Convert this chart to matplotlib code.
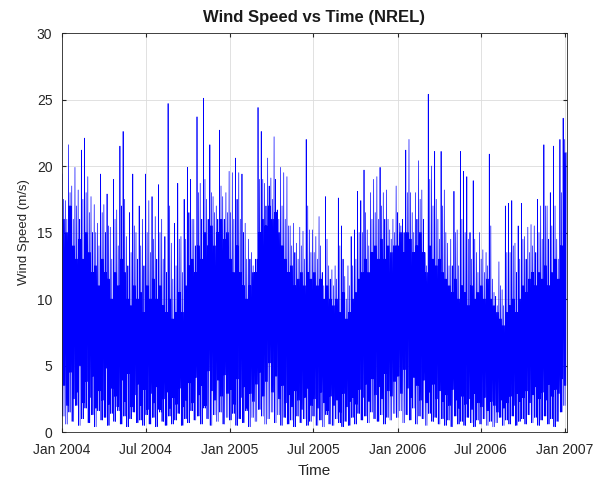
import numpy as np
import matplotlib
matplotlib.use('Agg')
import matplotlib.pyplot as plt
import matplotlib.dates as mdates

plt.rcParams['font.family'] = ['Liberation Sans', 'DejaVu Sans']

# weekly readings of the wind speed trace (m/s), starting Jan 1 2004
start = np.datetime64('2004-01-01T00:00')

# highest spike in each week
peaks = [19.4, 17.4, 21.6, 18.5, 19.9, 18.2, 21.2, 22.1, 19.2, 17.7, 17.1, 15.7, 19.4,
         17.1, 17.9, 15.4, 19.0, 16.7, 21.5, 22.6, 14.7, 16.5, 19.4, 15.0, 17.0, 16.0,
         19.4, 17.4, 17.7, 16.2, 18.6, 16.0, 14.7, 24.7, 14.2, 15.7, 18.7, 14.7, 17.5,
         19.9, 19.0, 16.0, 23.7, 18.7, 25.1, 17.5, 21.6, 17.7, 17.0, 22.7, 17.7, 18.0,
         19.6, 19.5, 20.6, 19.5, 19.4, 15.7, 14.5, 13.5, 11.5, 24.4, 22.6, 18.7, 20.6,
         19.1, 22.2, 16.7, 19.9, 19.5, 19.2, 15.5, 15.7, 14.2, 15.4, 15.1, 22.0, 15.2,
         15.2, 14.7, 16.2, 12.0, 17.7, 12.5, 12.2, 12.5, 17.6, 15.5, 11.7, 12.5, 14.7,
         15.2, 18.1, 17.4, 19.7, 15.2, 18.0, 19.0, 19.2, 19.9, 18.0, 18.2, 15.2, 16.0,
         18.5, 15.7, 16.0, 21.2, 22.0, 16.5, 18.0, 20.4, 18.2, 12.5, 25.4, 20.0, 21.1,
         16.0, 21.1, 18.2, 14.2, 14.5, 18.1, 15.2, 21.1, 19.6, 19.2, 15.0, 18.9, 13.5,
         15.0, 13.7, 13.5, 20.9, 11.5, 10.2, 12.8, 10.7, 17.0, 17.2, 17.4, 14.2, 15.5,
         17.2, 14.7, 15.4, 15.6, 15.5, 17.5, 17.0, 21.6, 17.0, 18.0, 21.5, 14.5, 22.0, 23.6]

# second highest spike in each week
second = [17.5, 16, 18, 16, 17, 16, 17.5, 18, 16.5, 15, 15, 14, 16.5,
          15, 15.5, 13, 16, 14, 17, 17.5, 12.5, 13.5, 15.5, 13, 14, 12.5,
          15, 13.5, 14.5, 13, 15, 13, 12, 17, 11.5, 12.5, 14.5, 12, 14.5,
          16.5, 16, 14, 18, 16, 19, 16, 18, 16.5, 16, 18.5, 16, 16.5,
          16.5, 16, 17.5, 16, 15, 13, 13, 12.5, 12, 19, 19, 17, 18.5,
          17.5, 19, 16, 17, 16, 15.5, 14, 13.5, 13, 14, 13, 17, 13.5,
          13.5, 13, 14, 11, 14.5, 11.5, 11, 11.5, 14, 13, 10, 11, 12.5,
          13, 15, 15, 16.5, 14, 16, 16.5, 16, 17, 16, 16, 14.5, 15,
          16.5, 15.5, 15, 18, 18, 15, 16, 17.5, 16, 12.5, 19, 17, 17.5,
          14.5, 17, 15, 12.5, 12.5, 15, 12.5, 16, 15, 14.5, 13, 14.5, 12,
          13, 12, 12.5, 15.5, 10.5, 9.5, 11, 9.5, 13.5, 13.5, 14, 12, 13,
          14.5, 13, 13.5, 14, 13.5, 15, 14.5, 17, 14.5, 15.5, 17, 13, 18, 22]

# typical daily high (top of the dense part) in each week
body = [16, 15, 17, 14, 13, 14.5, 13, 15, 13.5, 12, 12.5, 11, 13,
        12, 11.5, 10, 12, 11, 13, 12, 10, 9.5, 11, 10, 10.5, 9,
        11, 10, 11.5, 10, 11, 9.5, 9, 10, 8.5, 9, 10.5, 9, 11,
        12.5, 13, 12, 14, 13, 15, 14, 15.5, 14, 15, 16, 14.5, 15,
        13, 12, 14, 12, 11, 10, 11, 12, 13, 15, 16, 15.5, 17,
        16, 16.5, 15, 14, 13, 12, 12.5, 11, 11.5, 12, 11, 12, 11.5,
        12, 11, 11.5, 10, 11, 10, 9.5, 10, 9, 10.5, 8.5, 9, 10,
        10.5, 11.5, 12, 13, 12, 13.5, 14, 13, 14.5, 13, 14, 13.5, 14,
        14, 15, 13.5, 15, 14.5, 13.5, 14, 15, 13.5, 12, 14, 13, 12.5,
        13, 12, 11.5, 11, 10.5, 11.5, 10, 11, 10.5, 9.5, 11, 10, 10.5,
        11, 10, 11.5, 10, 9.5, 9, 8.5, 8, 9, 9.5, 10, 9, 10,
        11, 10.5, 11.5, 12, 11, 12, 11.5, 12.5, 11, 12, 13, 11.5, 14, 21]

# lowest value in each week
lows = [1.2, 0.6, 1.5, 0.8, 2.0, 0.5, 1.0, 1.8, 0.7, 1.3, 0.4, 1.6, 0.9,
        1.1, 0.5, 1.4, 0.8, 1.9, 0.6, 1.2, 0.4, 1.0, 1.5, 0.7, 0.9, 0.5,
        1.3, 0.6, 1.1, 0.4, 1.7, 0.8, 0.5, 1.2, 0.6, 0.9, 1.4, 0.5, 1.0,
        0.7, 1.6, 0.9, 1.2, 0.6, 1.8, 1.0, 0.5, 1.3, 0.8, 1.5, 0.6, 1.1,
        0.9, 1.4, 0.5, 1.0, 0.7, 1.6, 0.4, 1.1, 0.8, 1.7, 1.2, 0.6, 1.0,
        1.5, 0.7, 1.3, 0.5, 1.1, 0.6, 0.9, 0.4, 1.2, 0.7, 1.0, 0.5, 0.8,
        1.2, 0.5, 0.9, 0.4, 1.3, 0.6, 0.5, 1.0, 0.7, 0.4, 0.8, 0.5, 1.1,
        0.6, 1.4, 0.9, 1.2, 0.7, 1.5, 1.0, 0.8, 1.3, 0.6, 1.1, 0.9, 1.4,
        1.1, 1.6, 0.7, 1.3, 0.9, 1.8, 0.6, 1.2, 1.0, 0.5, 1.4, 0.8, 1.1,
        0.6, 1.0, 0.5, 0.9, 0.4, 1.2, 0.6, 0.8, 0.5, 1.1, 0.7, 0.4, 0.9,
        0.6, 1.0, 0.5, 0.8, 0.4, 0.7, 1.1, 0.5, 0.9, 0.6, 1.2, 0.5, 0.8,
        1.0, 0.6, 1.3, 0.7, 1.1, 0.5, 0.9, 1.2, 0.6, 1.0, 0.4, 0.8, 1.5, 2.0]

# shallower mid-week lulls
dips = [3.5, 2.0, 4.5, 2.5, 3.0, 5.0, 2.2, 3.8, 2.6, 4.2, 1.8, 3.1, 2.4,
        4.8, 2.1, 3.3, 2.7, 1.6, 3.9, 2.3, 4.4, 1.9, 2.8, 3.6, 2.0, 3.2,
        1.7, 2.9, 2.2, 3.4, 1.5, 2.5, 3.0, 1.8, 2.6, 2.1, 3.3, 1.9, 2.4,
        3.7, 2.2, 4.1, 2.8, 3.5, 2.0, 4.6, 3.1, 2.4, 3.9, 2.7, 4.3, 2.9,
        3.2, 2.1, 4.0, 2.6, 3.4, 1.8, 2.9, 2.3, 3.6, 4.5, 2.7, 3.8, 5.2,
        3.0, 4.2, 2.5, 3.5, 2.2, 2.8, 1.9, 3.1, 2.4, 1.7, 2.6, 3.3, 2.0,
        2.5, 1.8, 3.0, 2.2, 1.6, 2.7, 2.0, 2.4, 1.5, 2.9, 1.9, 2.3, 2.6,
        2.1, 3.2, 2.6, 3.6, 2.3, 4.0, 2.8, 3.4, 2.5, 4.4, 3.1, 2.7, 3.8,
        4.2, 2.9, 4.7, 3.3, 2.6, 4.1, 3.5, 2.4, 3.9, 2.2, 3.0, 3.6, 2.5,
        3.1, 2.3, 2.8, 2.0, 3.2, 2.4, 1.8, 2.7, 2.1, 2.5, 1.7, 2.9, 2.2,
        1.9, 2.6, 1.6, 2.3, 2.0, 1.5, 2.4, 1.8, 2.2, 2.7, 2.0, 2.9, 2.3,
        2.6, 3.1, 2.2, 2.8, 3.4, 2.5, 3.0, 2.4, 3.6, 2.7, 3.2, 2.9, 4.0, 3.5]

# lay out each week as a run of ups and downs
steps = np.array([0, 20, 40, 60, 80, 100, 120, 140, 160], dtype='timedelta64[h]')
t = []
v = []
for i in range(len(peaks)):
    base = start + np.timedelta64(7 * 24 * i, 'h')
    t.extend(base + steps)
    v.extend([peaks[i], lows[i], body[i], dips[i], second[i], lows[i], body[i], dips[i], body[i]])
t = np.array(t)

fig = plt.figure(figsize=(6.03, 4.79), dpi=100)
ax = fig.add_axes([0.103, 0.098, 0.837, 0.833])
ax.plot(t, v, color=(0, 0, 1), linewidth=0.5)

ax.set_xlim(np.datetime64('2004-01-01'), np.datetime64('2007-01-05'))
ax.set_ylim(0, 30)
ax.set_yticks([0, 5, 10, 15, 20, 25, 30])
ticks = [np.datetime64(d) for d in ['2004-01-01', '2004-07-01', '2005-01-01', '2005-07-01',
                                   '2006-01-01', '2006-07-01', '2007-01-01']]
ax.set_xticks(ticks)
ax.xaxis.set_major_formatter(mdates.DateFormatter('%b %Y'))
ax.grid(True, color='#dcdcdc', linewidth=0.6)
ax.set_axisbelow(True)
ax.tick_params(direction='in', length=3, labelsize=10, colors='#262626', top=True, right=True,
               labeltop=False, labelright=False)
ax.tick_params(axis='x', pad=8)
ax.tick_params(axis='y', pad=7)
for s in ax.spines.values():
    s.set_color('#262626')
    s.set_linewidth(0.6)

ax.set_title('Wind Speed vs Time (NREL)', fontsize=12, fontweight='bold', color='#1a1a1a', pad=8)
ax.set_xlabel('Time', fontsize=11, color='#262626', labelpad=5)
ax.set_ylabel('Wind Speed (m/s)', fontsize=9.5, color='#262626', labelpad=5)

fig.savefig('out.png', dpi=100)
